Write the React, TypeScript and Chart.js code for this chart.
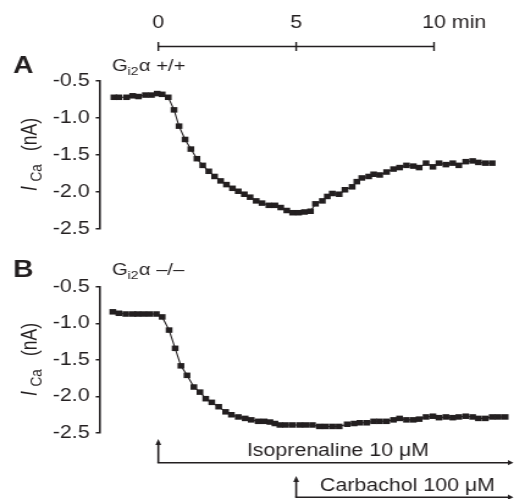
import React, { useEffect, useRef } from "react";
import { Chart, registerables } from "chart.js";

Chart.register(...registerables);

// ---------- data (time in min, current in nA) ----------
const timeA = [
  -1.61, -1.43, -1.15, -0.93, -0.72, -0.47, -0.25, -0.04, 0.14, 0.36, 0.57, 0.75, 0.97, 1.18, 1.4, 1.61,
  1.83, 2.04, 2.26, 2.47, 2.69, 2.9, 3.12, 3.33, 3.55, 3.76, 4.01, 4.23, 4.44, 4.66, 4.87, 5.09, 5.3, 5.52,
  5.7, 5.95, 6.13, 6.31, 6.56, 6.77, 7.03, 7.2, 7.38, 7.63, 7.81, 8.03, 8.28, 8.53, 8.75, 9.0, 9.25, 9.46,
  9.71, 9.96, 10.18, 10.43, 10.68, 10.9, 11.15, 11.4, 11.61, 11.86, 12.11,
];
const currentA = [
  -0.72, -0.72, -0.72, -0.7, -0.71, -0.69, -0.69, -0.67, -0.68, -0.72, -0.89, -1.11, -1.29, -1.42, -1.55, -1.64,
  -1.72, -1.79, -1.85, -1.9, -1.95, -1.99, -2.03, -2.07, -2.12, -2.15, -2.18, -2.18, -2.21, -2.25, -2.28, -2.28,
  -2.27, -2.26, -2.16, -2.12, -2.06, -2.02, -2.03, -1.97, -1.93, -1.86, -1.81, -1.79, -1.76, -1.77, -1.73, -1.69,
  -1.67, -1.64, -1.65, -1.67, -1.61, -1.66, -1.61, -1.63, -1.61, -1.64, -1.59, -1.58, -1.6, -1.61, -1.61,
];
const timeB = [
  -1.65, -1.43, -1.18, -0.93, -0.75, -0.54, -0.32, -0.07, 0.14, 0.39, 0.61, 0.82, 1.04, 1.29, 1.51, 1.72,
  1.94, 2.19, 2.44, 2.65, 2.9, 3.15, 3.37, 3.62, 3.84, 4.05, 4.23, 4.41, 4.62, 4.87, 5.13, 5.34, 5.59, 5.84,
  6.06, 6.31, 6.56, 6.85, 7.1, 7.31, 7.56, 7.81, 8.03, 8.28, 8.53, 8.75, 9.0, 9.25, 9.46, 9.71, 9.96, 10.18,
  10.43, 10.68, 10.9, 11.15, 11.4, 11.61, 11.86, 12.11, 12.33, 12.58,
];
const currentB = [
  -0.84, -0.86, -0.87, -0.87, -0.87, -0.87, -0.87, -0.87, -0.91, -1.09, -1.34, -1.58, -1.71, -1.87, -1.94, -2.03,
  -2.08, -2.14, -2.21, -2.25, -2.28, -2.3, -2.32, -2.34, -2.34, -2.35, -2.37, -2.39, -2.39, -2.39, -2.39, -2.39,
  -2.39, -2.41, -2.41, -2.41, -2.41, -2.38, -2.37, -2.36, -2.36, -2.34, -2.34, -2.34, -2.32, -2.3, -2.32, -2.32,
  -2.31, -2.28, -2.27, -2.29, -2.28, -2.29, -2.28, -2.27, -2.28, -2.3, -2.3, -2.28, -2.28, -2.28,
];
const yTicks = [-0.5, -1.0, -1.5, -2.0, -2.5];
const timeBarTicks = [0, 5, 10];
const timeBarUnit = "min";
const drugIso = "Isoprenaline 10 μM";
const drugCarb = "Carbachol 100 μM";
const isoStart = 0;
const carbStart = 5;
const panelLetters = ["A", "B"];
const genotypes = ["+/+", "–/–"];

// ---------- layout / style ----------
const PAGE_W = 514;
const CANVAS_W = 421;
const SX = PAGE_W / CANVAS_W; // horizontal stretch of the original figure
const INK = "#231f20";
const FONT = '"Liberation Sans", Arial, Helvetica, sans-serif';
const X_MIN = -2.115;
const X_MAX = 12.724;

function txt(ctx: CanvasRenderingContext2D, s: string, x: number, y: number, size: number, style = "", align: CanvasTextAlign = "left") {
  ctx.font = `${style}${size}px ${FONT}`;
  ctx.textAlign = align;
  ctx.textBaseline = "alphabetic";
  ctx.fillStyle = INK;
  ctx.fillText(s, x, y);
  return ctx.measureText(s).width;
}

function drawHeader(ctx: CanvasRenderingContext2D, letter: string, suffix: string, letterBase: number, gBase: number) {
  txt(ctx, letter, 13 / SX, letterBase, 23, "bold ");
  let x = 112 / SX;
  x += txt(ctx, "G", x, gBase, 16.5);
  x += txt(ctx, "i2", x, gBase + 4, 11.5);
  x += txt(ctx, "α", x + 0.3, gBase, 16.5) + 0.3;
  txt(ctx, " " + suffix, x, gBase, 16.5);
}

function drawYTitle(ctx: CanvasRenderingContext2D, centerY: number) {
  ctx.save();
  ctx.translate(37 / SX, centerY);
  ctx.rotate(-Math.PI / 2);
  txt(ctx, "I", -36, 0, 17.5, "italic ");
  txt(ctx, "Ca", -26.5, 4, 13.5);
  txt(ctx, "(nA)", 4, 0, 17.5);
  ctx.restore();
}

function line(ctx: CanvasRenderingContext2D, x1: number, y1: number, x2: number, y2: number, w: number) {
  ctx.beginPath();
  ctx.lineWidth = w;
  ctx.strokeStyle = INK;
  ctx.moveTo(x1, y1);
  ctx.lineTo(x2, y2);
  ctx.stroke();
}

function tri(ctx: CanvasRenderingContext2D, pts: number[][]) {
  ctx.beginPath();
  ctx.moveTo(pts[0][0], pts[0][1]);
  ctx.lineTo(pts[1][0], pts[1][1]);
  ctx.lineTo(pts[2][0], pts[2][1]);
  ctx.closePath();
  ctx.fillStyle = INK;
  ctx.fill();
}

function decorA(chart: any) {
  const ctx: CanvasRenderingContext2D = chart.ctx;
  const xs = chart.scales.x;
  ctx.save();
  const yb = 46.5;
  const p0 = xs.getPixelForValue(timeBarTicks[0]);
  const p1 = xs.getPixelForValue(timeBarTicks[timeBarTicks.length - 1]);
  line(ctx, p0, yb, p1, yb, 1.5);
  timeBarTicks.forEach((t, i) => {
    const p = xs.getPixelForValue(t);
    line(ctx, p, 42, p, 51, 1.4);
    const w = txt(ctx, String(t), p, 28, 17.5, "", "center");
    if (i === timeBarTicks.length - 1) txt(ctx, " " + timeBarUnit, p + w / 2, 28, 17.5);
  });
  drawHeader(ctx, panelLetters[0], genotypes[0], 73, 71);
  drawYTitle(ctx, (chart.chartArea.top + chart.chartArea.bottom) / 2);
  ctx.restore();
}

function decorB(chart: any) {
  const ctx: CanvasRenderingContext2D = chart.ctx;
  const xs = chart.scales.x;
  const right = CANVAS_W - 0.5;
  ctx.save();
  drawHeader(ctx, panelLetters[1], genotypes[1], 27, 25);
  drawYTitle(ctx, (chart.chartArea.top + chart.chartArea.bottom) / 2);
  const drugs = [
    { t: isoStart, tip: 189, base: 212.7, label: drugIso, lx: 338 / SX, ly: 206, align: "center" as CanvasTextAlign },
    { t: carbStart, tip: 226, base: 247.2, label: drugCarb, lx: 320 / SX, ly: 241, align: "left" as CanvasTextAlign },
  ];
  drugs.forEach((d) => {
    const x = xs.getPixelForValue(d.t);
    line(ctx, x, d.tip + 4, x, d.base, 1.6);
    line(ctx, x - 0.8, d.base, right - 3, d.base, 1.6);
    tri(ctx, [[x, d.tip], [x - 2.4, d.tip + 6], [x + 2.4, d.tip + 6]]);
    tri(ctx, [[right, d.base], [right - 4.5, d.base - 2.6], [right - 4.5, d.base + 2.6]]);
    txt(ctx, d.label, d.lx, d.ly, 17.5, "", d.align);
  });
  ctx.restore();
}

type PanelProps = {
  top: number;
  height: number;
  padTop: number;
  padBottom: number;
  times: number[];
  values: number[];
  decor: (c: any) => void;
};

function Panel({ top, height, padTop, padBottom, times, values, decor }: PanelProps) {
  const ref = useRef<HTMLCanvasElement | null>(null);
  useEffect(() => {
    const canvas = ref.current;
    if (!canvas) return;
    const chart = new Chart(canvas, {
      type: "line",
      data: {
        datasets: [
          {
            data: times.map((t, i) => ({ x: t, y: values[i] })),
            borderColor: INK,
            borderWidth: 1.1,
            pointStyle: "rect",
            pointRadius: 3.9,
            pointBackgroundColor: INK,
            pointBorderColor: INK,
            pointBorderWidth: 0,
            tension: 0,
            clip: false as any,
          },
        ],
      },
      options: {
        responsive: false,
        animation: false,
        devicePixelRatio: 1,
        events: [],
        layout: { padding: { top: padTop, bottom: padBottom, left: 0, right: 0 } },
        plugins: { legend: { display: false }, tooltip: { enabled: false } },
        scales: {
          x: { type: "linear", min: X_MIN, max: X_MAX, display: false },
          y: {
            type: "linear",
            min: yTicks[yTicks.length - 1],
            max: yTicks[0],
            afterFit: (s: any) => {
              s.width = 100 / SX;
            },
            border: { display: true, color: INK, width: 1.6 },
            grid: { drawOnChartArea: false, drawTicks: true, tickLength: 3.5, color: INK, lineWidth: 1.5 },
            ticks: {
              stepSize: yTicks[0] - yTicks[1],
              color: INK,
              padding: 5,
              font: { family: FONT, size: 17.5 },
              callback: (v: any) => Number(v).toFixed(1),
            },
          },
        },
      } as any,
      plugins: [{ id: "decor", afterDraw: (c: any) => decor(c) }],
    });
    return () => chart.destroy();
  }, []);
  return (
    <canvas
      ref={ref}
      width={CANVAS_W}
      height={height}
      style={{ position: "absolute", left: 0, top, width: PAGE_W + "px", height: height + "px" }}
    />
  );
}

export default function App() {
  return (
    <div style={{ position: "absolute", left: 0, top: 0, width: PAGE_W, height: 499, background: "#fff", overflow: "hidden" }}>
      <Panel top={0} height={250} padTop={81} padBottom={21} times={timeA} values={currentA} decor={decorA} />
      <Panel top={250} height={249} padTop={37} padBottom={66} times={timeB} values={currentB} decor={decorB} />
    </div>
  );
}
